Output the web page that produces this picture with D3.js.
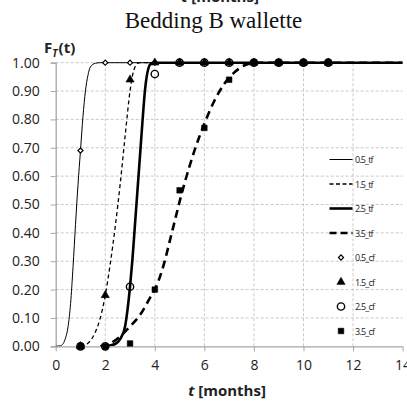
<!DOCTYPE html>
<html><head><meta charset="utf-8">
<script src="https://cdn.jsdelivr.net/npm/d3@7"></script>
<style>body{margin:0;background:#fff}svg{display:block}</style>
</head><body>
<script>
// ---- data ----
const xTicks = [0, 2, 4, 6, 8, 10, 12, 14];
const yTicks = [0, 0.1, 0.2, 0.3, 0.4, 0.5, 0.6, 0.7, 0.8, 0.9, 1.0];

const t05tf = [0, 0.2, 0.4, 0.5, 0.6, 0.7, 0.8, 0.9, 1.0, 1.1, 1.2, 1.3, 1.4, 1.6, 1.8, 14];
const f05tf = [0, 0.002, 0.03, 0.07, 0.15, 0.28, 0.43, 0.57, 0.69, 0.81, 0.90, 0.955, 0.985, 0.998, 1, 1];
const t15tf = [1.0, 1.2, 1.4, 1.6, 1.8, 2.0, 2.2, 2.4, 2.6, 2.8, 3.0, 3.1, 3.2, 3.3, 3.4, 14];
const f15tf = [0, 0.005, 0.02, 0.05, 0.1, 0.18, 0.29, 0.42, 0.57, 0.74, 0.9, 0.955, 0.985, 0.997, 1, 1];
const t25tf = [2.0, 2.4, 2.6, 2.8, 2.9, 3.0, 3.1, 3.2, 3.3, 3.4, 3.5, 3.6, 3.7, 3.8, 3.9, 14];
const f25tf = [0, 0.008, 0.025, 0.07, 0.13, 0.21, 0.31, 0.43, 0.55, 0.67, 0.79, 0.9, 0.965, 0.993, 1, 1];
const t35tf = [1.8, 2.2, 2.6, 3.0, 3.4, 3.8, 4.0, 4.4, 4.6, 4.8, 5.0, 5.2, 5.6, 6.0, 6.4, 6.8, 7.2, 7.6, 8.0, 14];
const f35tf = [0, 0.01, 0.035, 0.07, 0.11, 0.17, 0.2, 0.3, 0.37, 0.44, 0.51, 0.575, 0.69, 0.785, 0.865, 0.925, 0.965, 0.99, 1, 1];

const tcf = [1, 2, 3, 4, 5, 6, 7, 8, 9, 10, 11];
const f05cf = [0.69, 1, 1, 1, 1, 1, 1, 1, 1, 1, 1];
const f15cf = [0, 0.18, 0.94, 1, 1, 1, 1, 1, 1, 1, 1];
const f25cf = [0, 0, 0.21, 0.96, 1, 1, 1, 1, 1, 1, 1];
const f35cf = [0, 0, 0.01, 0.20, 0.55, 0.77, 0.94, 1, 1, 1, 1];

const lineNames = ["0.5_tf", "1.5_tf", "2.5_tf", "3.5_tf"];
const markNames = ["0.5_cf", "1.5_cf", "2.5_cf", "3.5_cf"];

// ---- chart ----
const W = 407, H = 403;
const svg = d3.select("body").append("svg").attr("width", W).attr("height", H)
  .style("font-family", "'Open Sans', sans-serif");

const x = d3.scaleLinear().domain([0, 14]).range([55.7, 402.6]);
const y = d3.scaleLinear().domain([0, 1]).range([346.3, 62.7]);

// grid
const grid = svg.append("g");
grid.selectAll(".gy").data(yTicks.slice(1)).join("line")
  .attr("x1", x(0)).attr("x2", x(14)).attr("y1", d => y(d)).attr("y2", d => y(d))
  .attr("stroke", "#c9c9c9").attr("stroke-width", 1).attr("stroke-dasharray", "3,2");
grid.selectAll(".gx").data(xTicks.filter(d => d > 0 && d < 14)).join("line")
  .attr("x1", d => x(d)).attr("x2", d => x(d)).attr("y1", y(0)).attr("y2", y(1))
  .attr("stroke", "#c9c9c9").attr("stroke-width", 1).attr("stroke-dasharray", "3,2");

// axes
const yAxis = d3.axisLeft(y).tickValues(yTicks).tickFormat(d3.format(".2f")).tickSize(5).tickPadding(11);
const xAxis = d3.axisBottom(x).tickValues(xTicks).tickFormat(d3.format("d")).tickSize(5).tickPadding(9);
const gy = svg.append("g").attr("transform", `translate(${x(0)},0)`).call(yAxis);
const gx = svg.append("g").attr("transform", `translate(0,${y(0)})`).call(xAxis);
[gx, gy].forEach(g => {
  g.select(".domain").attr("stroke", "#a6a6a6").attr("stroke-width", 1.3);
  g.selectAll(".tick line").attr("stroke", "#a6a6a6");
  g.selectAll(".tick text").attr("fill", "#222").style("font-size", "14px")
    .style("font-family", "'Open Sans', sans-serif");
});
gx.select(".domain").attr("d", `M${x(0)},0.5H${x(14)}`);

// curves
const clip = svg.append("clipPath").attr("id", "c").append("rect")
  .attr("x", x(0)).attr("y", y(1) - 3).attr("width", x(14) - x(0)).attr("height", y(0) - y(1) + 3);
const lineGen = d3.line().x(d => x(d[0])).y(d => y(d[1])).curve(d3.curveMonotoneX);
const curves = [
  {t: t05tf, f: f05tf, w: 1, dash: null},
  {t: t15tf, f: f15tf, w: 1.3, dash: "4,3"},
  {t: t25tf, f: f25tf, w: 2.6, dash: null},
  {t: t35tf, f: f35tf, w: 2.6, dash: "8,5"}
];
const cg = svg.append("g").attr("clip-path", "url(#c)");
curves.forEach(c => {
  cg.append("path").datum(d3.zip(c.t, c.f)).attr("d", lineGen)
    .attr("fill", "none").attr("stroke", "#000").attr("stroke-width", c.w)
    .attr("stroke-dasharray", c.dash);
});

// markers
const sym = [
  {type: d3.symbolSquare, size: 13, fill: "#fff", sw: 1.2, rot: 45},
  {type: d3.symbolTriangle, size: 30, fill: "#000", sw: 0.5, rot: 0},
  {type: d3.symbolCircle, size: 42, fill: "none", sw: 1.4, rot: 0},
  {type: d3.symbolSquare, size: 32, fill: "#000", sw: 0.5, rot: 0}
];
const cfs = [f05cf, f15cf, f25cf, f35cf];
const mg = svg.append("g");
cfs.forEach((vals, i) => {
  mg.selectAll(null).data(d3.zip(tcf, vals)).join("path")
    .attr("transform", d => `translate(${x(d[0])},${y(d[1])}) rotate(${sym[i].rot})`)
    .attr("d", d3.symbol().type(sym[i].type).size(sym[i].size))
    .attr("fill", sym[i].fill).attr("stroke", "#000").attr("stroke-width", sym[i].sw);
});

// legend
const lg = svg.append("g");
const ly0 = 159.5, ldy = 24.5;
lineNames.forEach((n, i) => {
  const yy = ly0 + i * ldy;
  lg.append("line").attr("x1", 329.5).attr("x2", 352.5).attr("y1", yy).attr("y2", yy)
    .attr("stroke", "#000").attr("stroke-width", curves[i].w)
    .attr("stroke-dasharray", i === 1 ? "4,2.5" : (i === 3 ? "7,4" : null));
  lg.append("text").attr("x", 355).attr("y", yy + 3.5).text(n)
    .style("font-size", "9px").attr("fill", "#222").attr("textLength", 18.5);
});
markNames.forEach((n, i) => {
  const yy = ly0 + (i + 4) * ldy;
  lg.append("path").attr("transform", `translate(341,${yy}) rotate(${sym[i].rot})`)
    .attr("d", d3.symbol().type(sym[i].type).size(sym[i].size))
    .attr("fill", sym[i].fill === "none" ? "#fff" : sym[i].fill).attr("stroke", "#000").attr("stroke-width", sym[i].sw);
  lg.append("text").attr("x", 355).attr("y", yy + 3.5).text(n)
    .style("font-size", "9px").attr("fill", "#222").attr("textLength", 20);
});

// texts
svg.append("text").attr("x", 220).attr("y", 2).attr("text-anchor", "middle")
  .style("font-size", "15px").style("font-weight", "bold").attr("fill", "#222")
  .html('<tspan font-style="italic">t</tspan> [months]');
svg.append("text").attr("x", 213.5).attr("y", 28).attr("text-anchor", "middle")
  .style("font-family", "'Liberation Serif', serif").style("font-size", "23px").attr("fill", "#111")
  .text("Bedding B wallette");
const fl = svg.append("text").attr("x", 44).attr("y", 53).style("font-size", "15px")
  .style("font-weight", "bold").attr("fill", "#222");
fl.append("tspan").text("F");
fl.append("tspan").attr("dy", 4).style("font-size", "10px").style("font-style", "italic").text("T");
fl.append("tspan").attr("dy", -4).attr("dx", 1).text("(t)");
svg.append("text").attr("x", 227).attr("y", 396).attr("text-anchor", "middle")
  .style("font-size", "15px").style("font-weight", "bold").attr("fill", "#222")
  .html('<tspan font-style="italic">t</tspan> [months]');
</script>
</body></html>
